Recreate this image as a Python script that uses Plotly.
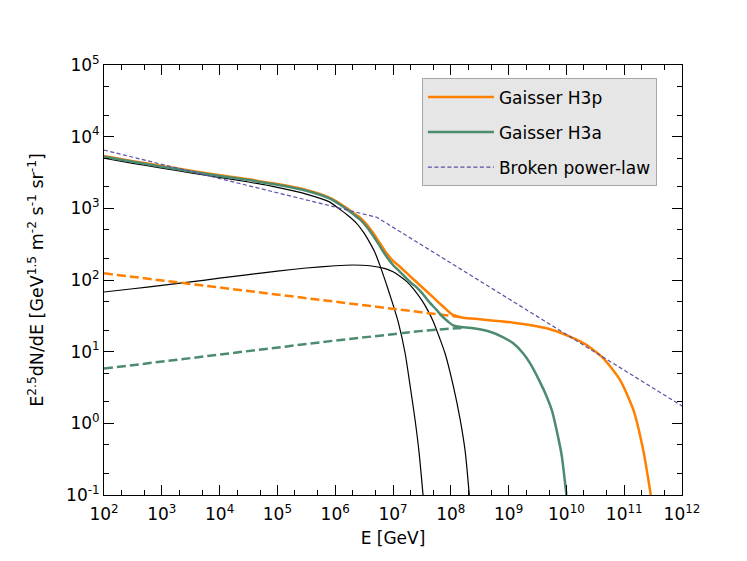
import numpy as np
import plotly.graph_objects as go

# ---------------- data (log10 E [GeV], E^2.5 dN/dE) ----------------
# Population 1 (black, first knee)
pop1_logE = [2.0, 2.5, 3.0, 3.5, 4.0, 4.5, 5.0, 5.5, 5.9, 6.08, 6.2, 6.37, 6.5, 6.6,
             6.68, 6.78, 6.92, 7.03, 7.09, 7.21, 7.29, 7.38, 7.45, 7.52]
pop1_F = [5000, 4250, 3650, 3130, 2700, 2330, 1960, 1580, 1230, 968, 820, 618, 450, 330,
          250, 155, 72, 38, 26, 9.5, 3.6, 1.15, 0.4, 0.1]

# Population 2 (black, second)
pop2_logE = [2.0, 2.5, 3.0, 3.5, 4.0, 4.5, 5.0, 5.5, 6.0, 6.3, 6.6, 6.85, 7.0, 7.12,
             7.24, 7.35, 7.5, 7.6, 7.7, 7.8, 7.9, 8.04, 8.16, 8.25, 8.32]
pop2_F = [68, 75.5, 84, 94, 106, 119, 133, 147, 158, 162, 158, 145, 130, 113,
          95, 76, 52, 38, 26, 16, 9.5, 3.4, 1.15, 0.4, 0.1]

# Population 3, H3p (orange dashed)
pop3p_logE = [2.0, 3.0, 4.0, 5.0, 6.0, 7.0, 7.5, 8.0, 8.15]
pop3p_F = [124, 98.5, 78.3, 62.2, 49.4, 39.2, 35.0, 31.2, 30.5]

# Population 3, H3a (green dashed)
pop3a_logE = [2.0, 3.0, 4.0, 5.0, 6.0, 7.0, 7.5, 8.0, 8.22]
pop3a_F = [5.8, 7.3, 9.1, 11.5, 14.3, 17.5, 19.5, 21.0, 21.5]

# Gaisser H3p total (orange)
h3p_logE = [2.0, 2.5, 3.0, 3.5, 4.0, 4.5, 5.0, 5.5, 5.91, 6.08, 6.2, 6.31, 6.43, 6.55,
            6.66, 6.78, 6.89, 7.0, 7.12, 7.3, 7.5, 7.7, 7.87, 7.95, 8.04, 8.12, 8.22,
            8.5, 9.08, 9.66, 10.06, 10.35, 10.64, 10.93, 11.16, 11.33, 11.46]
h3p_F = [5370, 4560, 3900, 3350, 2900, 2540, 2180, 1800, 1400, 1170, 1010, 870, 740, 590,
         448, 320, 236, 185, 153, 112, 80, 56.7, 42.4, 37, 32.5, 31, 29.8,
         28.3, 25.4, 21.2, 16.2, 12.4, 8.07, 4.0, 1.53, 0.42, 0.1]

# Gaisser H3a total (green)
h3a_logE = [2.0, 2.5, 3.0, 3.5, 4.0, 4.5, 5.0, 5.5, 5.91, 6.08, 6.2, 6.31, 6.43, 6.55,
            6.66, 6.78, 6.89, 7.0, 7.12, 7.3, 7.41, 7.5, 7.64, 7.75, 7.87, 7.96, 8.04,
            8.12, 8.22, 8.5, 8.68, 8.9, 9.08, 9.25, 9.37, 9.52, 9.66, 9.75, 9.83,
            9.92, 10.0]
h3a_F = [5250, 4456, 3809, 3270, 2831, 2480, 2129, 1757, 1363, 1130, 970, 830, 700, 545,
         410, 290, 211, 162, 130, 93, 79, 66, 48, 38.5, 30, 26, 23.3,
         22.4, 21.9, 20.5, 19.0, 16.0, 13.1, 9.5, 6.9, 4.1, 2.35, 1.5, 0.81,
         0.35, 0.1]

# Broken power-law (purple dotted)
bpl_logE = [2.0, 6.72, 12.0]
bpl_F = [6500, 750, 1.75]

# Ticks
x_tickvals = [1e2, 1e3, 1e4, 1e5, 1e6, 1e7, 1e8, 1e9, 1e10, 1e11, 1e12]
x_ticktext = ["10<sup>2</sup>", "10<sup>3</sup>", "10<sup>4</sup>", "10<sup>5</sup>",
              "10<sup>6</sup>", "10<sup>7</sup>", "10<sup>8</sup>", "10<sup>9</sup>",
              "10<sup>10</sup>", "10<sup>11</sup>", "10<sup>12</sup>"]
y_tickvals = [1e-1, 1e0, 1e1, 1e2, 1e3, 1e4, 1e5]
y_ticktext = ["10<sup>-1</sup>", "10<sup>0</sup>", "10<sup>1</sup>", "10<sup>2</sup>",
              "10<sup>3</sup>", "10<sup>4</sup>", "10<sup>5</sup>"]

ORANGE = "#ff8000"
GREEN = "#4c8b6f"
PURPLE = "#5b4fa6"
FONT = "DejaVu Sans"


def E(v):
    return 10 ** np.asarray(v, dtype=float)


fig = go.Figure()

fig.add_trace(go.Scatter(x=E(pop1_logE), y=pop1_F, mode="lines", showlegend=False,
                         line=dict(color="black", width=1.2, shape="spline", smoothing=0.6)))
fig.add_trace(go.Scatter(x=E(pop2_logE), y=pop2_F, mode="lines", showlegend=False,
                         line=dict(color="black", width=1.2, shape="spline", smoothing=0.6)))
fig.add_trace(go.Scatter(x=E(pop3p_logE), y=pop3p_F, mode="lines", showlegend=False,
                         line=dict(color=ORANGE, width=2.5, dash="9px,4px")))
fig.add_trace(go.Scatter(x=E(pop3a_logE), y=pop3a_F, mode="lines", showlegend=False,
                         line=dict(color=GREEN, width=2.5, dash="9px,4px")))
fig.add_trace(go.Scatter(x=E(h3p_logE), y=h3p_F, mode="lines", name="Gaisser H3p",
                         legendgroup="a", legendrank=1,
                         line=dict(color=ORANGE, width=2.5, shape="spline", smoothing=0.6)))
fig.add_trace(go.Scatter(x=E(h3a_logE), y=h3a_F, mode="lines", name="Gaisser H3a",
                         legendgroup="b", legendrank=2,
                         line=dict(color=GREEN, width=2.5, shape="spline", smoothing=0.6)))
fig.add_trace(go.Scatter(x=E(bpl_logE), y=bpl_F, mode="lines", name="Broken power-law",
                         legendgroup="c", legendrank=3,
                         line=dict(color=PURPLE, width=1.2, dash="4px,2.5px")))

axis_common = dict(
    type="log", showgrid=False, zeroline=False, showline=True, linecolor="black",
    linewidth=1, mirror="allticks", ticks="inside", ticklen=10, tickwidth=1,
    tickcolor="black", tickfont=dict(family=FONT, size=17, color="black"),
    minor=dict(ticks="inside", ticklen=5, tickwidth=1, tickcolor="black", showgrid=False),
)

fig.update_xaxes(range=[2, 12], tickvals=x_tickvals, ticktext=x_ticktext,
                 ticklabelstandoff=4,
                 title=dict(text="E [GeV]", font=dict(family=FONT, size=17, color="black"),
                            standoff=8),
                 **axis_common)
fig.update_yaxes(range=[-1, 5], tickvals=y_tickvals, ticktext=y_ticktext,
                 title=dict(text="E<sup>2.5</sup>dN/dE [GeV<sup>1.5</sup> m<sup>-2</sup> s<sup>-1</sup> sr<sup>-1</sup>]",
                            font=dict(family=FONT, size=17.5, color="black"), standoff=17),
                 **axis_common)

fig.update_layout(
    width=747, height=561,
    margin=dict(l=104, r=65, t=65, b=66, autoexpand=False),
    paper_bgcolor="white", plot_bgcolor="white",
    font=dict(family=FONT, color="black"),
    legend=dict(x=0.55, y=0.969, xanchor="left", yanchor="top",
                bgcolor="#e6e6e6", bordercolor="#a8a8a8", borderwidth=1,
                font=dict(family=FONT, size=17, color="black"),
                tracegroupgap=10, itemwidth=66, entrywidth=236),
)

fig.write_html("out.html", config={"displayModeBar": False},
               post_script="document.body.style.margin='0px';")
